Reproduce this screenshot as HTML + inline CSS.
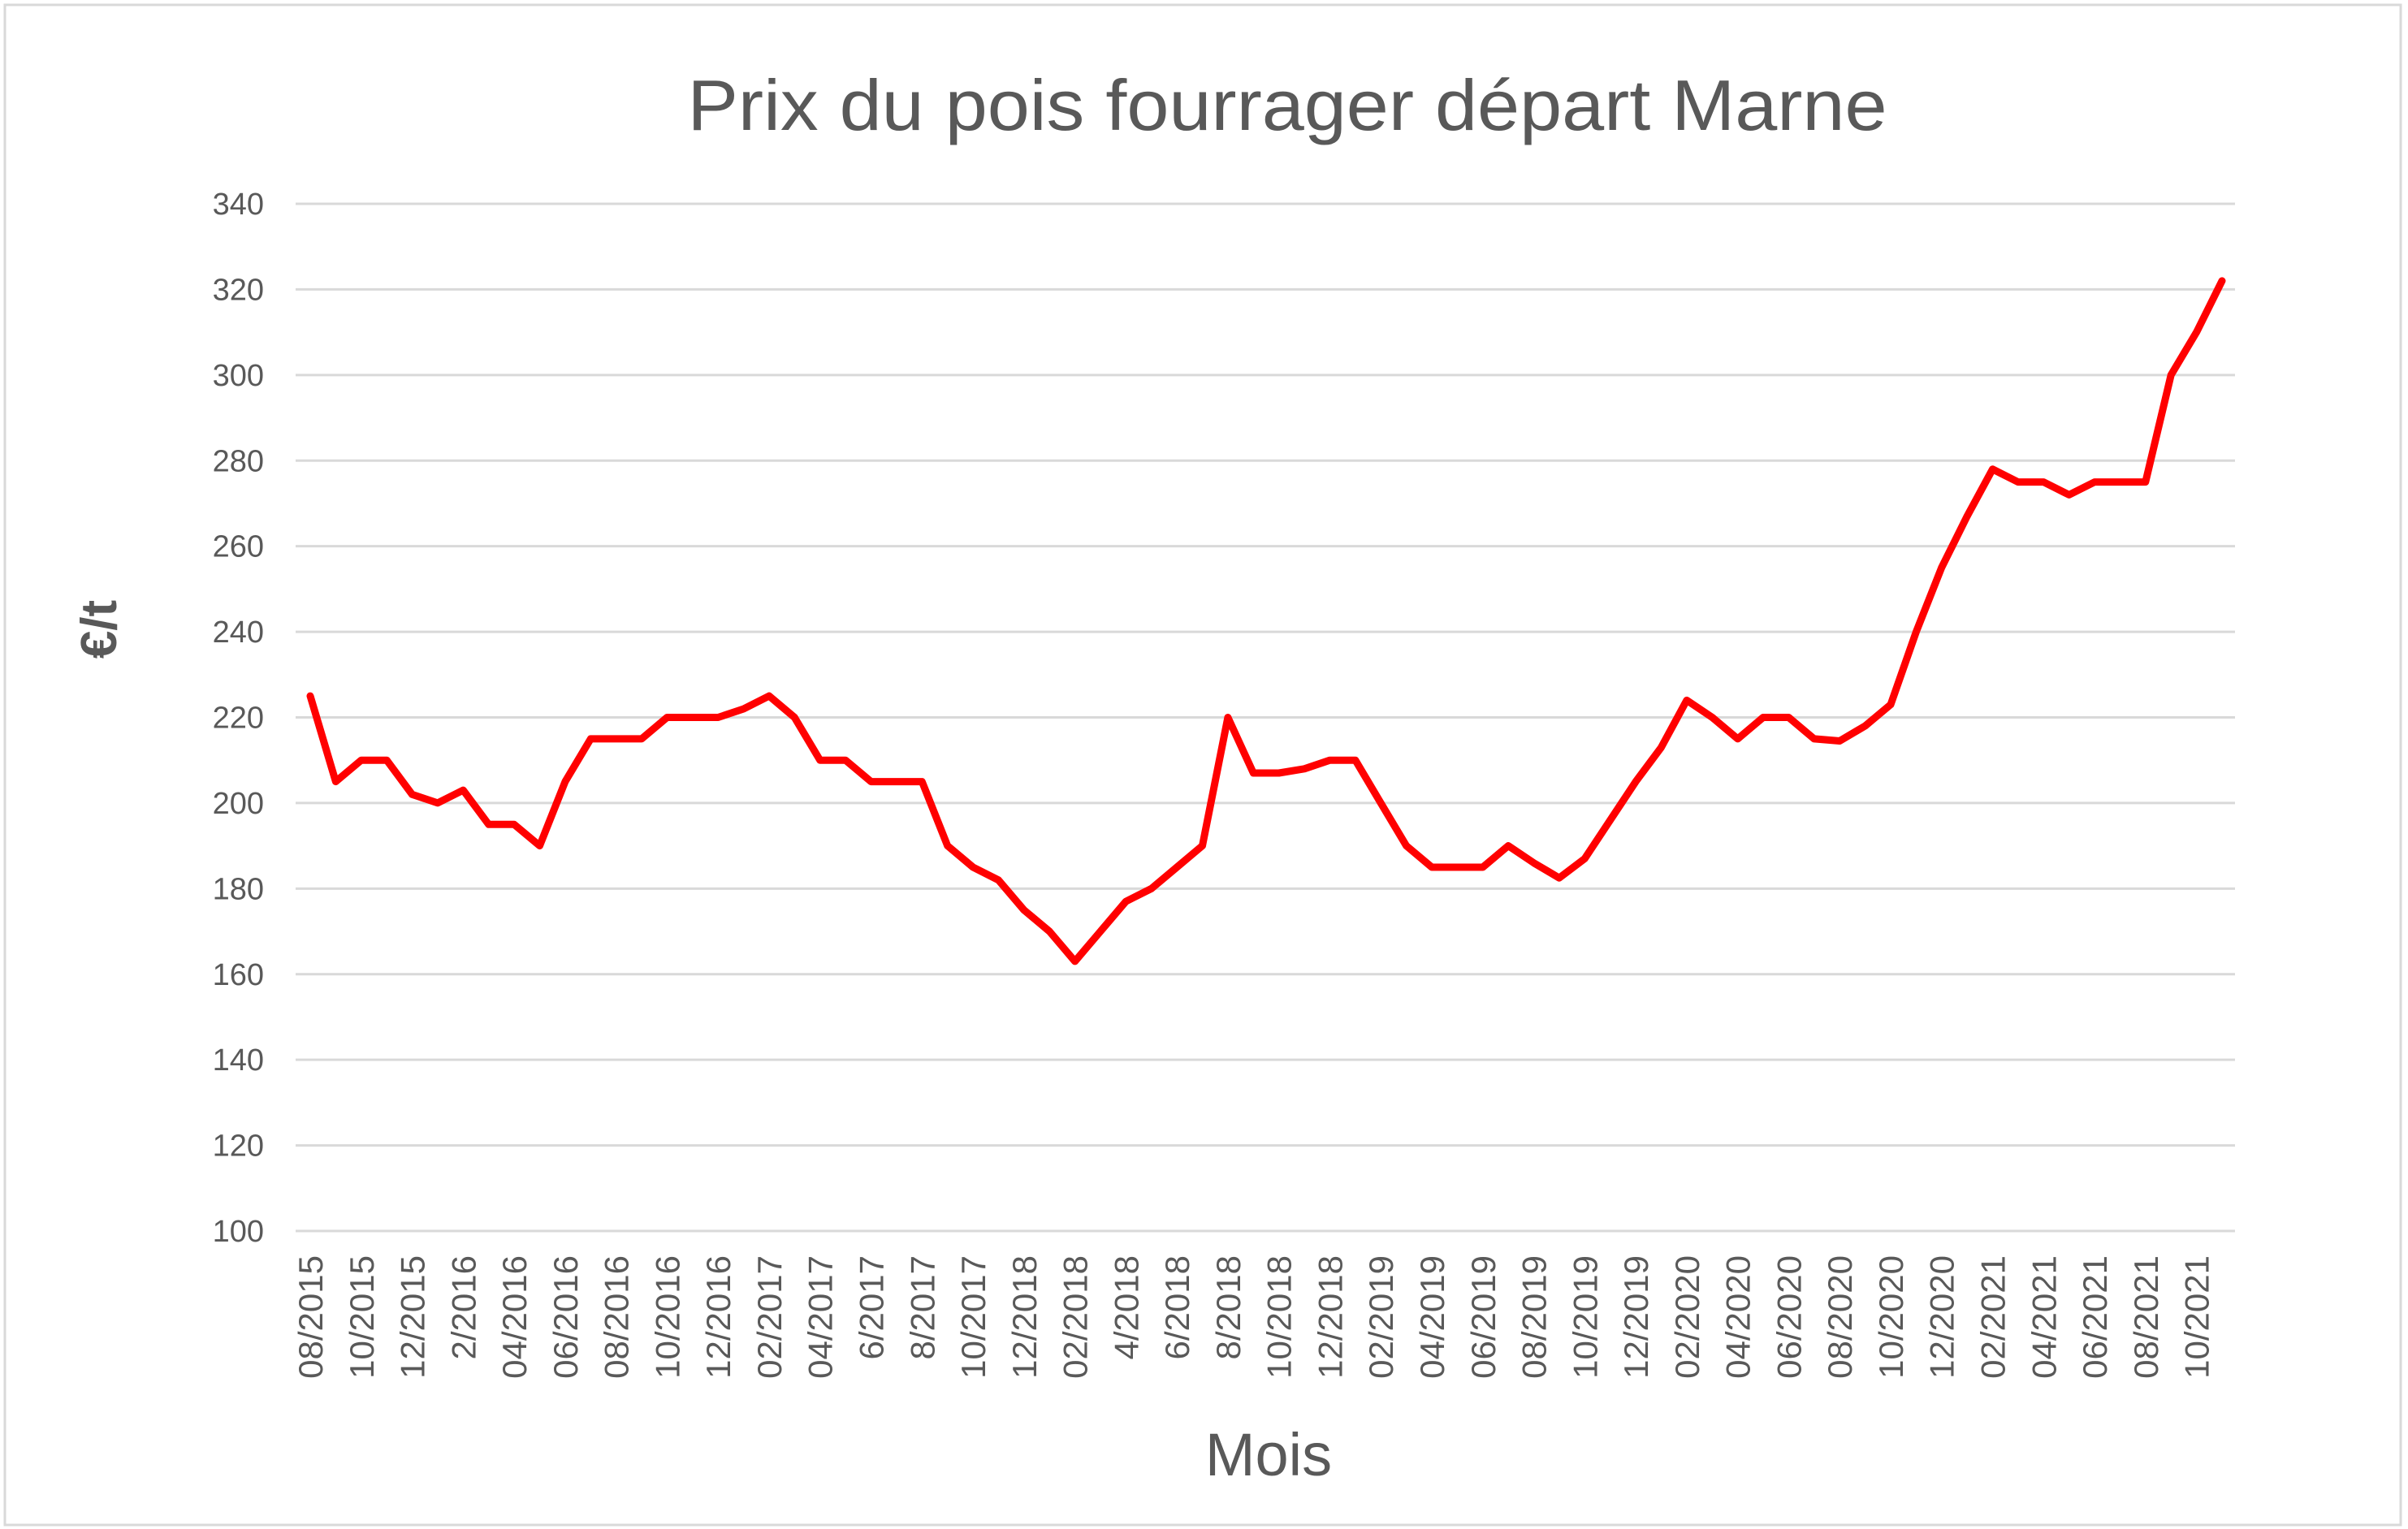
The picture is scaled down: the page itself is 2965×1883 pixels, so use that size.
<!DOCTYPE html>
<html><head><meta charset="utf-8"><style>html,body{margin:0;padding:0;background:#fff}svg{display:block}</style></head>
<body>
<svg width="2965" height="1883" viewBox="0 0 2965 1883" xmlns="http://www.w3.org/2000/svg" font-family="'Liberation Sans', sans-serif" fill="#595959">
<rect x="0" y="0" width="2965" height="1883" fill="#fff"/>
<rect x="6" y="6" width="2950" height="1872" fill="none" stroke="#d9d9d9" stroke-width="3"/>
<text x="1585" y="160" font-size="88" text-anchor="middle" textLength="1477" lengthAdjust="spacingAndGlyphs">Prix du pois fourrager départ Marne</text>
<g id="grid" stroke="#d9d9d9" stroke-width="3"></g>
<g id="yl" font-size="38" text-anchor="end"></g>
<g id="xl" font-size="42" text-anchor="end"></g>
<polyline id="ln" fill="none" stroke="#ff0000" stroke-width="9" stroke-linejoin="round" stroke-linecap="round"/>
<text x="1562" y="1817" font-size="74" text-anchor="middle">Mois</text>
<text transform="translate(143,775) rotate(-90)" font-size="62" font-weight="bold" text-anchor="middle">€/t</text>
</svg>
<script>
var ns="http://www.w3.org/2000/svg";
function y(v){return 1516-(v-100)*1265/240;}
function x(i){return 382+i*(2736-382)/75;}
var g=document.getElementById('grid'),yl=document.getElementById('yl'),xl=document.getElementById('xl');
for(var v=100;v<=340;v+=20){var l=document.createElementNS(ns,'line');l.setAttribute('x1',364);l.setAttribute('x2',2752);l.setAttribute('y1',y(v));l.setAttribute('y2',y(v));g.appendChild(l);
var t=document.createElementNS(ns,'text');t.setAttribute('x',325);t.setAttribute('y',y(v)+13);t.textContent=v;yl.appendChild(t);}
var labs=["08/2015","10/2015","12/2015","2/2016","04/2016","06/2016","08/2016","10/2016","12/2016","02/2017","04/2017","6/2017","8/2017","10/2017","12/2018","02/2018","4/2018","6/2018","8/2018","10/2018","12/2018","02/2019","04/2019","06/2019","08/2019","10/2019","12/2019","02/2020","04/2020","06/2020","08/2020","10/2020","12/2020","02/2021","04/2021","06/2021","08/2021","10/2021"];
labs.forEach(function(s,k){var t=document.createElementNS(ns,'text');var xx=x(2*k)+15;t.setAttribute('transform','translate('+xx+',1546) rotate(-90)');t.textContent=s;xl.appendChild(t);});
var d=[225,205,210,210,202,200,203,195,195,190,205,215,215,215,220,220,220,222,225,220,210,210,205,205,205,190,185,182,175,170,163,170,177,180,185,190,220,207,207,208,210,210,200,190,185,185,185,190,186,182.5,187,196,205,213,224,220,215,220,220,215,214.5,218,223,240,255,267,278,275,275,272,275,275,275,300,310,322];
document.getElementById('ln').setAttribute('points',d.map(function(v,i){return x(i).toFixed(1)+','+y(v).toFixed(1)}).join(' '));
</script>
</body></html>
